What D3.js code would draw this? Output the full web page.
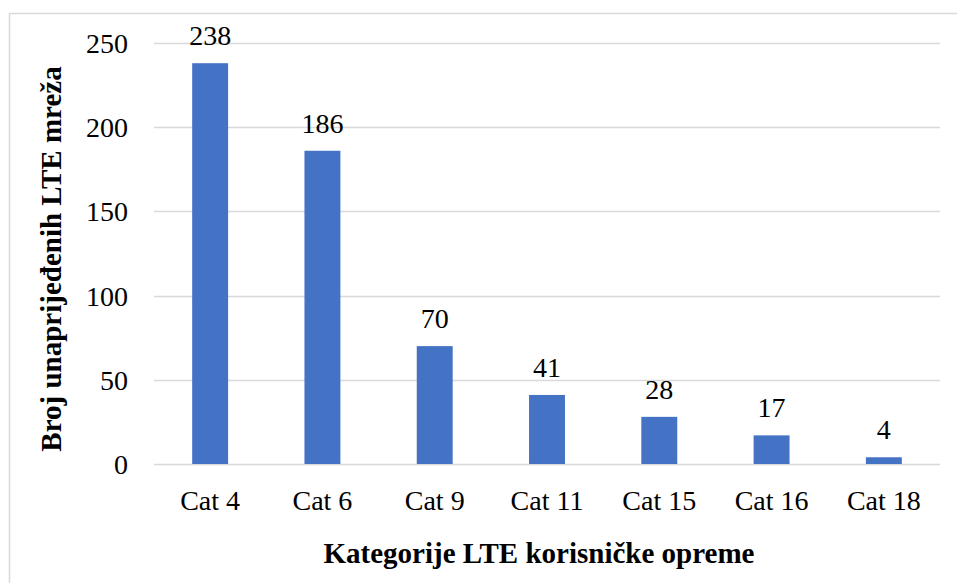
<!DOCTYPE html>
<html>
<head>
<meta charset="utf-8">
<script src="https://cdn.jsdelivr.net/npm/d3@7"></script>
<style>
  body { margin: 0; background: #fff; }
  svg text { font-family: "Liberation Serif", "Times New Roman", serif; }
</style>
</head>
<body>
<div id="chart"></div>
<script>
// data
let categories = ["Cat 4", "Cat 6", "Cat 9", "Cat 11", "Cat 15", "Cat 16", "Cat 18"];
let values = [238, 186, 70, 41, 28, 17, 4];
let yTicks = [0, 50, 100, 150, 200, 250];

let width = 957;
let height = 583;
let margin = {top: 43, right: 17, bottom: 119, left: 154};
let font = "'Liberation Serif', 'Times New Roman', serif";

let svg = d3.select("#chart")
  .append("svg")
  .attr("width", width)
  .attr("height", height);

// outer chart border
svg.append("rect")
  .attr("x", 9.5)
  .attr("y", 13.5)
  .attr("width", width)
  .attr("height", height)
  .attr("fill", "none")
  .attr("stroke", "#d9d9d9")
  .attr("stroke-width", 1.5);

let x = d3.scaleBand()
  .domain(categories)
  .range([margin.left, width - margin.right])
  .paddingInner(0.68)
  .paddingOuter(0.34);

let y = d3.scaleLinear()
  .domain([0, 250])
  .range([height - margin.bottom, margin.top]);

// gridlines
svg.selectAll("line.grid")
  .data(yTicks)
  .enter()
  .append("line")
  .attr("class", "grid")
  .attr("x1", margin.left)
  .attr("x2", width - margin.right)
  .attr("y1", d => Math.round(y(d)) + 0.5)
  .attr("y2", d => Math.round(y(d)) + 0.5)
  .attr("stroke", "#d9d9d9")
  .attr("stroke-width", 1.5);

// bars
svg.selectAll("rect.bar")
  .data(values)
  .enter()
  .append("rect")
  .attr("class", "bar")
  .attr("x", (d, i) => x(categories[i]))
  .attr("y", d => y(d))
  .attr("width", x.bandwidth())
  .attr("height", d => y(0) - y(d))
  .attr("fill", "#4472c4");

// y tick labels
svg.selectAll("text.ytick")
  .data(yTicks)
  .enter()
  .append("text")
  .attr("class", "ytick")
  .attr("x", 128)
  .attr("y", d => y(d) + 10)
  .attr("text-anchor", "end")
  .attr("font-size", 28)
  .style("font-family", font)
  .text(d => d);

// value labels
svg.selectAll("text.val")
  .data(values)
  .enter()
  .append("text")
  .attr("class", "val")
  .attr("x", (d, i) => x(categories[i]) + x.bandwidth() / 2)
  .attr("y", d => y(d) - 18)
  .attr("text-anchor", "middle")
  .attr("font-size", 28)
  .style("font-family", font)
  .text(d => d);

// x tick labels
svg.selectAll("text.xtick")
  .data(categories)
  .enter()
  .append("text")
  .attr("class", "xtick")
  .attr("x", d => x(d) + x.bandwidth() / 2)
  .attr("y", 510)
  .attr("text-anchor", "middle")
  .attr("font-size", 28)
  .style("font-family", font)
  .text(d => d);

// axis titles
svg.append("text")
  .attr("x", 539)
  .attr("y", 563)
  .attr("text-anchor", "middle")
  .attr("font-size", 29)
  .attr("font-weight", "bold")
  .style("font-family", font)
  .text("Kategorije LTE korisničke opreme");

svg.append("text")
  .attr("transform", "translate(61,259) rotate(-90)")
  .attr("text-anchor", "middle")
  .attr("font-size", 29)
  .attr("font-weight", "bold")
  .style("font-family", font)
  .text("Broj unaprijeđenih LTE mreža");
</script>
</body>
</html>
